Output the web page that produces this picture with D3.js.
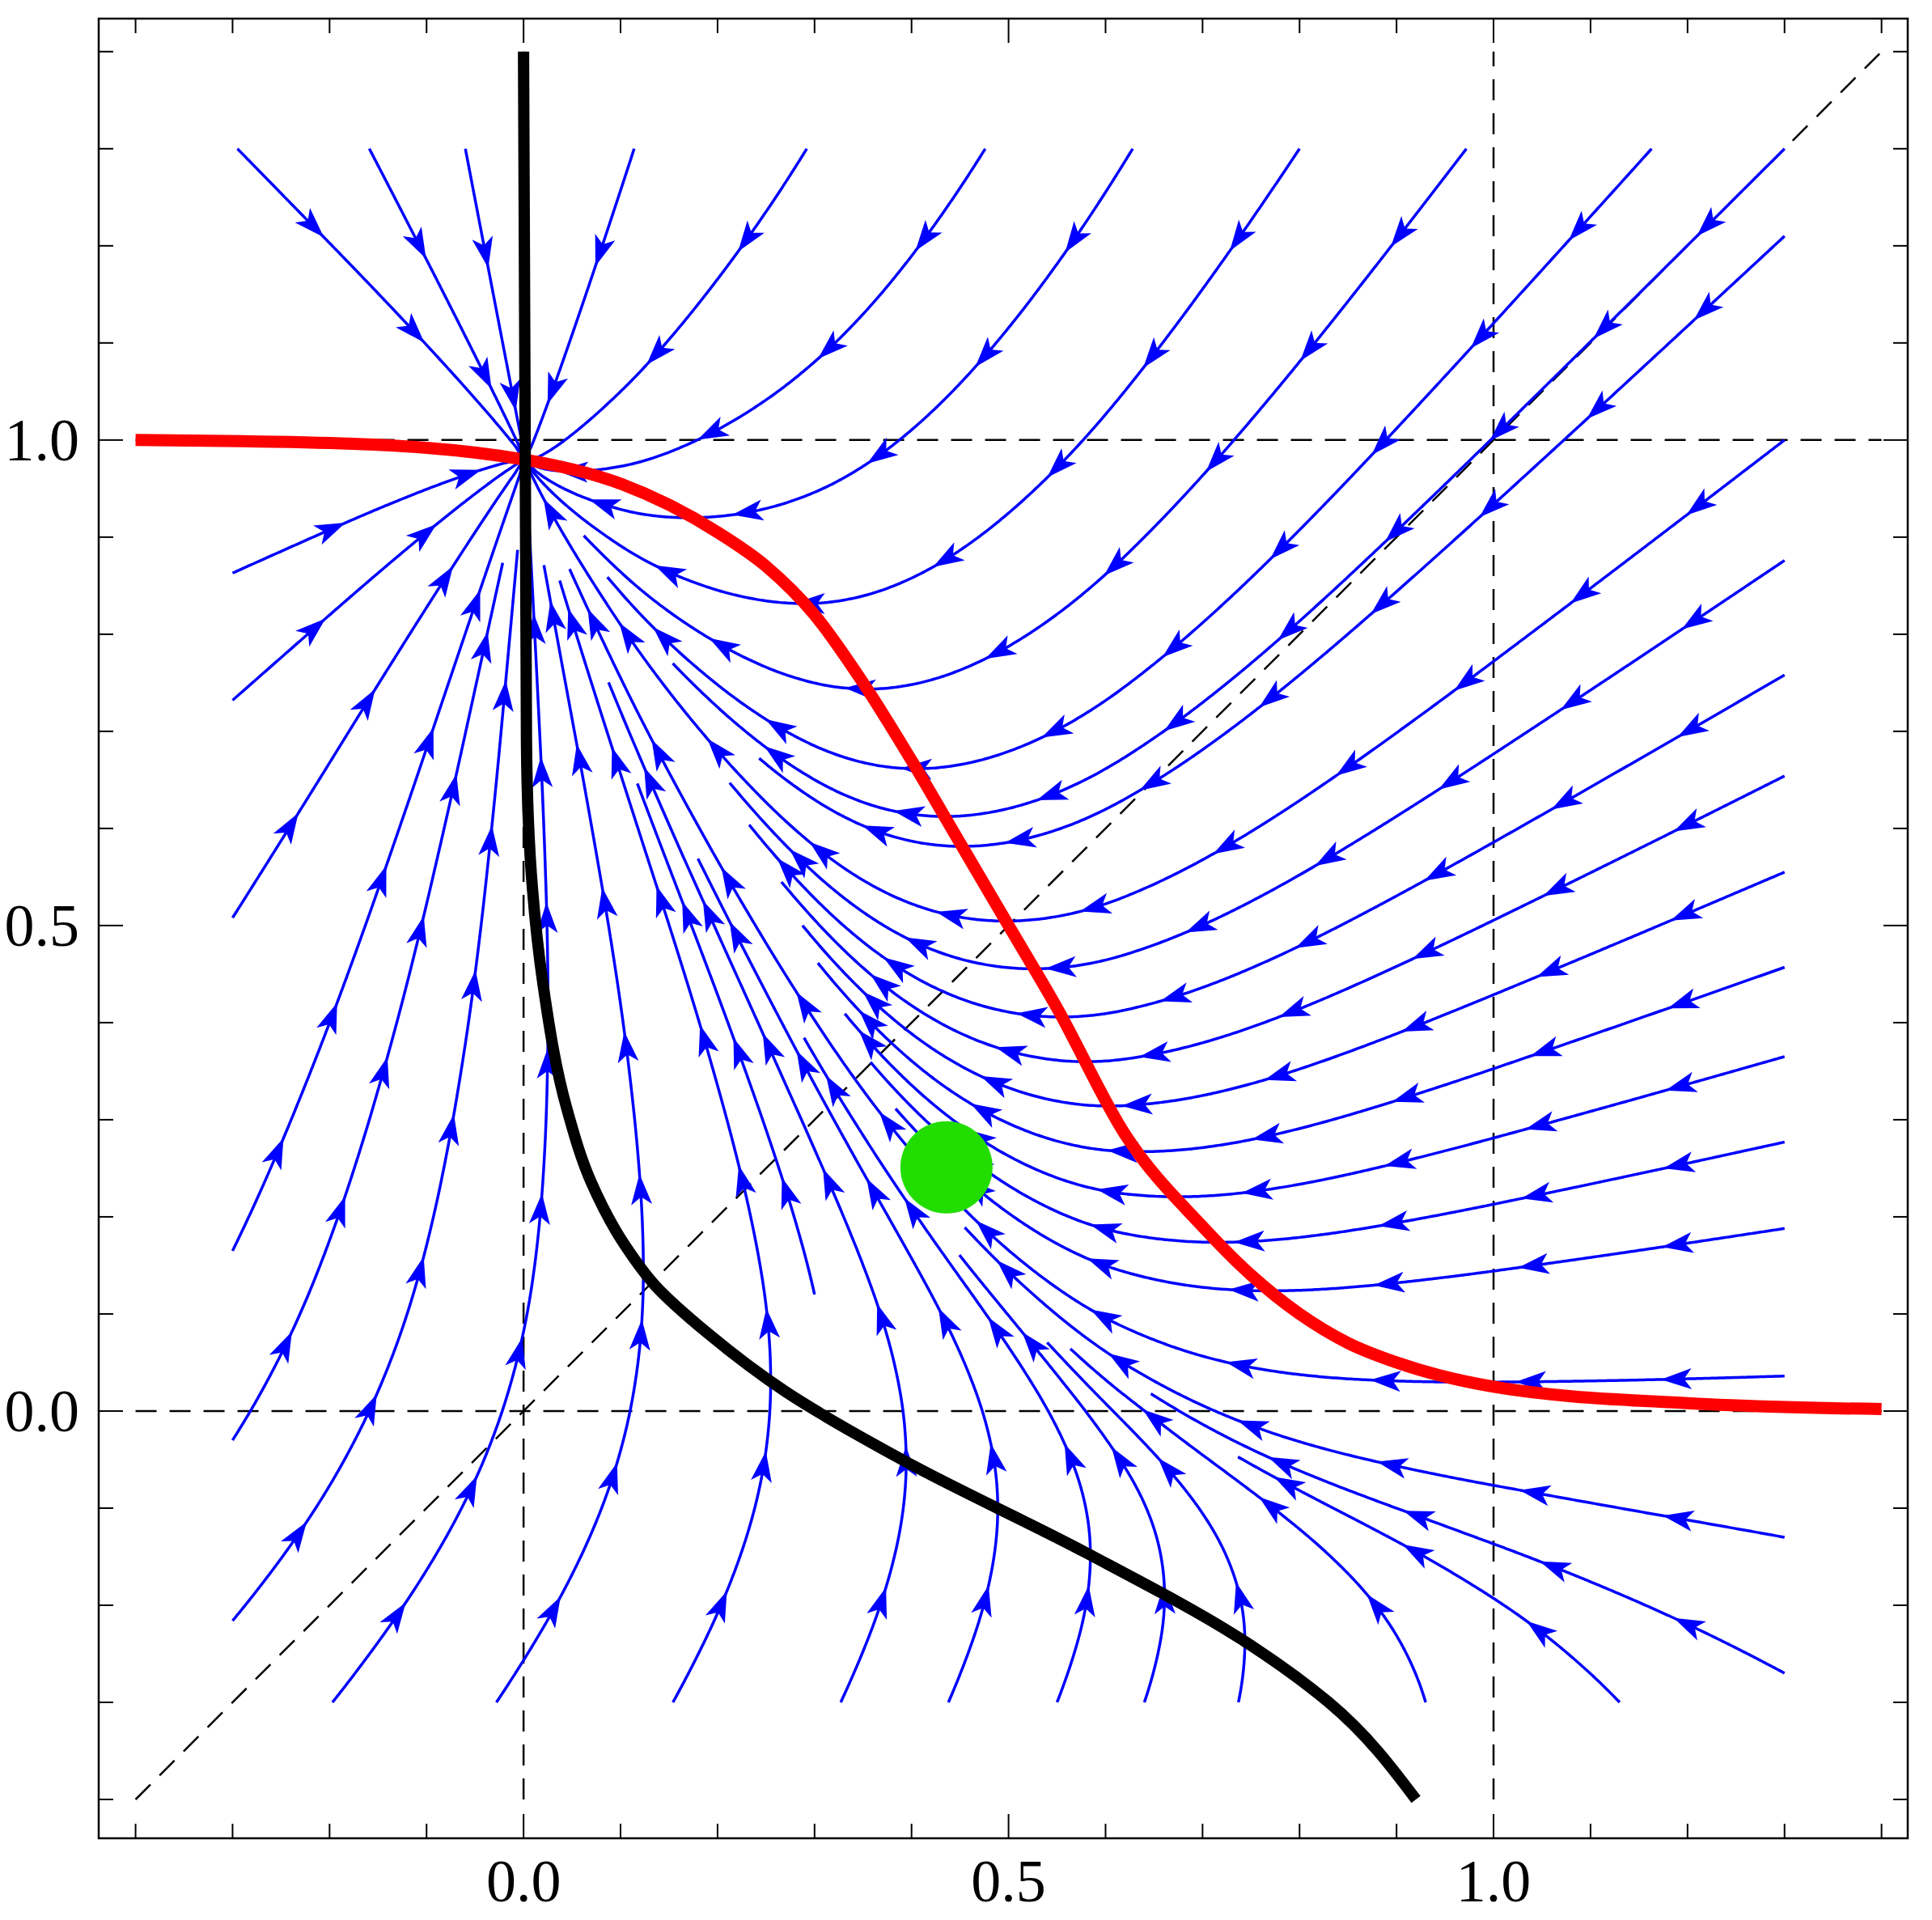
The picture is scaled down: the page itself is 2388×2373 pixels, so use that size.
<!DOCTYPE html>
<html>
<head>
<meta charset="utf-8">
<script src="https://cdn.jsdelivr.net/npm/d3@7"></script>
<style>
  body { margin: 0; background: #fff; }
  svg { display: block; }
</style>
</head>
<body>
<svg id="chart" width="2388" height="2373"></svg>
<script>
// red curve (y-nullcline)
const redX = [-0.4, -0.2, 0, 0.1, 0.2, 0.25, 0.3, 0.35, 0.4, 0.45, 0.5, 0.55, 0.62, 0.7, 0.75, 0.8, 0.85, 0.9, 1.0, 1.2, 1.4];
const redY = [1.0, 0.997, 0.98, 0.955, 0.905, 0.87, 0.82, 0.75, 0.67, 0.585, 0.5, 0.415, 0.285, 0.19, 0.14, 0.1, 0.07, 0.05, 0.025, 0.008, 0.002];

// black curve (x-nullcline), sorted by y
const blackY = [-0.40, -0.30, -0.235, -0.146, -0.05, 0.02, 0.08, 0.13, 0.17, 0.235, 0.31, 0.44, 0.54, 0.69, 1.40];
const blackX = [0.92, 0.83, 0.74, 0.58, 0.39, 0.27, 0.19, 0.135, 0.105, 0.07, 0.045, 0.02, 0.009, 0.003, 0.0];

// streamline seed points
const seedsTop = [-0.295, -0.159, -0.06, 0.114, 0.292, 0.476, 0.628, 0.8, 0.972, 1.163, 1.3];
const seedsRight = [1.21, 1.0, 0.876, 0.758, 0.654, 0.555, 0.457, 0.365, 0.277, 0.188, 0.036, -0.13, -0.27];
const seedsBottom = [-0.197, -0.028, 0.154, 0.327, 0.438, 0.55, 0.64, 0.737, 0.93, 1.13];
const seedsLeft = [0.863, 0.732, 0.508, 0.165, -0.03, -0.216];
const seedsInner = [[0.15, 0.6], [0.28, 0.63], [0.3, 0.3], [-0.095, 0.9], [0.3, 0.12], [0.55, 0.02]];

const greenDot = [0.436, 0.251];
const majorTicks = [0, 0.5, 1];
const minorTicks = [-0.4, -0.3, -0.2, -0.1, 0.1, 0.2, 0.3, 0.4, 0.6, 0.7, 0.8, 0.9, 1.1, 1.2, 1.3, 1.4];
const guideLines = [0, 1];

const L = 122, R = 2358, T = 23, B = 2272;
const x = d3.scaleLinear().domain([-0.438, 1.427]).range([L, R]);
const y = d3.scaleLinear().domain([-0.44, 1.434]).range([B, T]);

const redF = d3.scaleLinear().domain(redX).range(redY).clamp(true);
const blackF = d3.scaleLinear().domain(blackY).range(blackX).clamp(true);

const svg = d3.select('#chart');
const g = svg.append('g');

// dashed guides
const dash = '26,16';
guideLines.forEach(v => {
  g.append('line').attr('x1', x(v)).attr('x2', x(v)).attr('y1', y(-0.4)).attr('y2', y(1.4))
    .attr('stroke', '#000').attr('stroke-width', 2.5).attr('stroke-dasharray', dash);
  g.append('line').attr('x1', x(-0.4)).attr('x2', x(1.4)).attr('y1', y(v)).attr('y2', y(v))
    .attr('stroke', '#000').attr('stroke-width', 2.5).attr('stroke-dasharray', dash);
});
g.append('line').attr('x1', x(-0.4)).attr('y1', y(-0.4)).attr('x2', x(1.4)).attr('y2', y(1.4))
  .attr('stroke', '#000').attr('stroke-width', 2.5).attr('stroke-dasharray', dash);

// streamlines, stopped when they run into an earlier one
const dsep = 0.013;
const grid = new Map();
const key = (i, j) => i + ',' + j;
function crowded(p, id) {
  const i = Math.floor(p[0] / dsep), j = Math.floor(p[1] / dsep);
  for (let a = -1; a <= 1; a++) for (let b = -1; b <= 1; b++) {
    const c = grid.get(key(i + a, j + b));
    if (!c) continue;
    for (const q of c) if (q[2] !== id && Math.hypot(q[0] - p[0], q[1] - p[1]) < dsep) return true;
  }
  return false;
}
function mark(p, id) {
  const k = key(Math.floor(p[0] / dsep), Math.floor(p[1] / dsep));
  if (!grid.has(k)) grid.set(k, []);
  grid.get(k).push([p[0], p[1], id]);
}
function trace(p0, id) {
  const pts = [p0];
  let p = p0.slice();
  const h = 0.0025;
  for (let i = 0; i < 4000; i++) {
    const dx = blackF(p[1]) - p[0], dy = redF(p[0]) - p[1];
    const s = Math.hypot(dx, dy);
    if (s < 1e-4) break;
    const m = [p[0] + 0.5 * h * dx / s, p[1] + 0.5 * h * dy / s];
    const mdx = blackF(m[1]) - m[0], mdy = redF(m[0]) - m[1];
    const ms = Math.hypot(mdx, mdy);
    p = [p[0] + h * mdx / ms, p[1] + h * mdy / ms];
    if (p[0] < -0.305 || p[0] > 1.305 || p[1] < -0.305 || p[1] > 1.305) break;
    if (Math.hypot(p[0], p[1] - 0.98) < 0.015) { pts.push([0, 0.98]); break; }
    if (Math.hypot(p[0], p[1] - 0.98) > 0.09 && crowded(p, id)) break;
    pts.push(p);
  }
  pts.forEach(q => mark(q, id));
  return pts;
}

const seeds = [].concat(
  seedsTop.map(v => [v, 1.3]),
  seedsRight.map(v => [1.3, v]),
  seedsBottom.map(v => [v, -0.3]),
  seedsLeft.map(v => [-0.3, v]),
  seedsInner
);

const line = d3.line().x(d => x(d[0])).y(d => y(d[1]));
const blue = '#0000ff';
seeds.forEach((sd, id) => {
  const pts = trace(sd, id);
  if (pts.length < 4) return;
  g.append('path').attr('d', line(pts)).attr('fill', 'none')
    .attr('stroke', blue).attr('stroke-width', 3.5);
  let acc = 0, next = 150;
  for (let i = 1; i < pts.length; i++) {
    const ax = x(pts[i - 1][0]), ay = y(pts[i - 1][1]);
    const bx = x(pts[i][0]), by = y(pts[i][1]);
    acc += Math.hypot(bx - ax, by - ay);
    if (acc >= next && i < pts.length - 8) {
      const j = Math.max(0, i - 6);
      let ux = bx - x(pts[j][0]), uy = by - y(pts[j][1]);
      const n = Math.hypot(ux, uy); ux /= n; uy /= n;
      const len = 38, wd = 13;
      const b1 = [bx - len * ux + wd * uy, by - len * uy - wd * ux];
      const b2 = [bx - len * ux - wd * uy, by - len * uy + wd * ux];
      const bc = [bx - 0.75 * len * ux, by - 0.75 * len * uy];
      g.append('path').attr('d', `M${[bx, by]}L${b1}L${bc}L${b2}Z`).attr('fill', blue);
      next += 180;
    }
  }
});

// nullclines
const smoothX = d3.line().curve(d3.curveMonotoneX).x(d => x(d[0])).y(d => y(d[1]));
const smoothY = d3.line().curve(d3.curveMonotoneY).x(d => x(d[0])).y(d => y(d[1]));
g.append('path').attr('d', smoothX(redX.map((v, i) => [v, redY[i]])))
  .attr('fill', 'none').attr('stroke', '#ff0000').attr('stroke-width', 15);
g.append('path').attr('d', smoothY(blackY.map((v, i) => [blackX[i], v])))
  .attr('fill', 'none').attr('stroke', '#000').attr('stroke-width', 14);

g.append('circle').attr('cx', x(greenDot[0])).attr('cy', y(greenDot[1])).attr('r', 57)
  .attr('fill', '#22dd00');

// frame and ticks
svg.append('rect').attr('x', L).attr('y', T).attr('width', R - L).attr('height', B - T)
  .attr('fill', 'none').attr('stroke', '#000').attr('stroke-width', 2.5);
const tk = svg.append('g').attr('stroke', '#000').attr('stroke-width', 2);
const allTicks = majorTicks.map(v => [v, 30]).concat(minorTicks.map(v => [v, 18]));
allTicks.forEach(([v, len]) => {
  tk.append('line').attr('x1', x(v)).attr('x2', x(v)).attr('y1', B).attr('y2', B - len);
  tk.append('line').attr('x1', x(v)).attr('x2', x(v)).attr('y1', T).attr('y2', T + len);
  tk.append('line').attr('y1', y(v)).attr('y2', y(v)).attr('x1', L).attr('x2', L + len);
  tk.append('line').attr('y1', y(v)).attr('y2', y(v)).attr('x1', R).attr('x2', R - len);
});
const font = '"Liberation Serif", "DejaVu Serif", serif';
majorTicks.forEach(v => {
  svg.append('text').attr('x', x(v)).attr('y', B + 78).attr('text-anchor', 'middle')
    .attr('font-family', font).attr('font-size', 74).text(v.toFixed(1));
  svg.append('text').attr('x', L - 24).attr('y', y(v) + 25).attr('text-anchor', 'end')
    .attr('font-family', font).attr('font-size', 74).text(v.toFixed(1));
});
</script>
</body>
</html>
